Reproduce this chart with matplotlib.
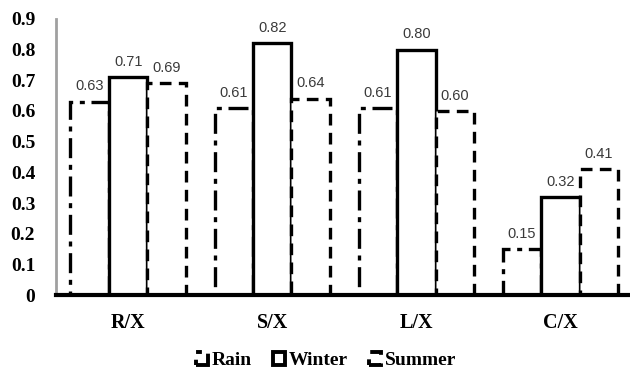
import matplotlib
matplotlib.use("Agg")
import matplotlib.pyplot as plt
import numpy as np

categories = ["R/X", "S/X", "L/X", "C/X"]
rain = [0.63, 0.61, 0.61, 0.15]
winter = [0.71, 0.82, 0.80, 0.32]
summer = [0.69, 0.64, 0.60, 0.41]
series_names = ["Rain", "Winter", "Summer"]
yticks = [0, 0.1, 0.2, 0.3, 0.4, 0.5, 0.6, 0.7, 0.8, 0.9]
ytick_labels = ["0", "0.1", "0.2", "0.3", "0.4", "0.5", "0.6", "0.7", "0.8", "0.9"]

serif_bold = dict(family="Liberation Serif", weight="bold")

fig = plt.figure(figsize=(6.3, 3.76), dpi=100)
ax = fig.add_axes([0.089, 0.215, 0.915, 0.735])

x = np.arange(len(categories))
w = 0.267
styles = [(0, (6, 2, 1.5, 2)), "solid", (0, (3.5, 2.2))]
handles = []
for i, (vals, name, ls) in enumerate(zip([rain, winter, summer], series_names, styles)):
    pos = x + (i - 1) * w
    bars = ax.bar(pos, vals, w, facecolor="white", edgecolor="black",
                  linewidth=2.4, linestyle=ls, label=name, zorder=2)
    handles.append(bars)
    for px, v in zip(pos, vals):
        ax.annotate(f"{v:.2f}", (px, v), xytext=(0, 6), textcoords="offset points",
                    ha="center", va="bottom", fontsize=10.5, color="#3a3a3a",
                    family="Liberation Sans")

ax.set_xlim(-0.5, 3.5)
ax.set_ylim(0, 0.9)
ax.set_yticks(yticks)
ax.set_yticklabels(ytick_labels, **serif_bold, fontsize=14)
ax.set_xticks(x)
ax.set_xticklabels(categories, **serif_bold, fontsize=14.5)
ax.tick_params(axis="y", length=0, pad=15)
ax.tick_params(axis="x", length=0, pad=13)

for s in ["top", "right"]:
    ax.spines[s].set_visible(False)
ax.spines["left"].set_color("#a0a0a0")
ax.spines["left"].set_linewidth(2)
ax.spines["bottom"].set_color("black")
ax.spines["bottom"].set_linewidth(3)
ax.spines["bottom"].set_zorder(3)

leg = fig.legend(handles=handles, labels=series_names, loc="center",
                 bbox_to_anchor=(0.518, 0.04), ncol=3, frameon=False,
                 prop=dict(family="Liberation Serif", weight="bold", size=14),
                 handlelength=0.6, handleheight=0.6, handletextpad=0.2,
                 columnspacing=1.1)
for h in leg.legend_handles:
    h.set_linewidth(2.8)

fig.savefig("out.png", dpi=100)
